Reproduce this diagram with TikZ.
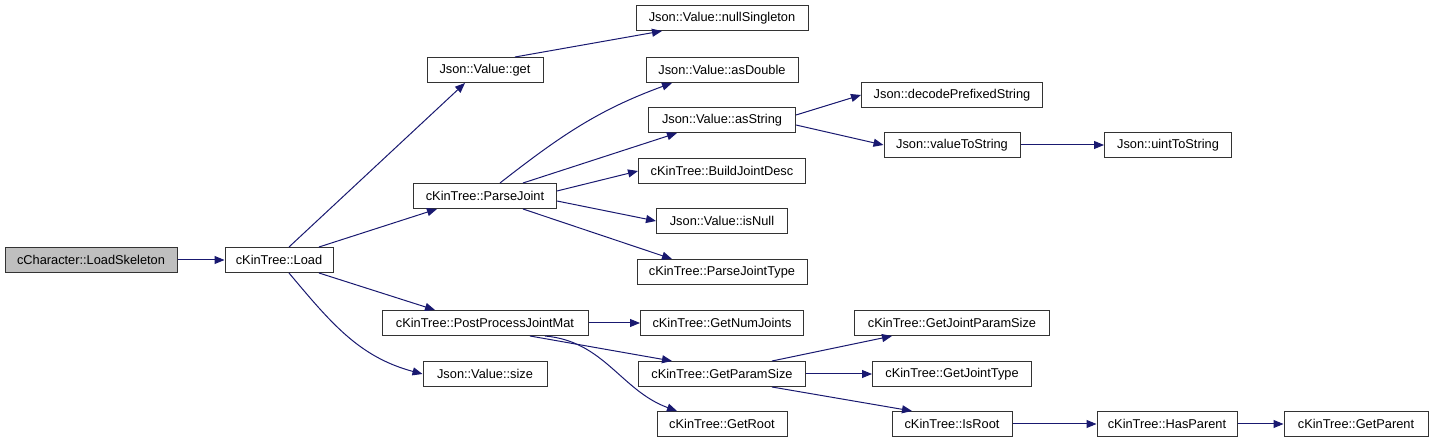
\documentclass[tikz,border=0pt]{standalone}
\usepackage{fontspec}
\setmainfont{Liberation Sans}
\usepackage{xcolor}
\usetikzlibrary{arrows.meta}
\definecolor{edgeblue}{RGB}{25,25,112}
\definecolor{rootgray}{RGB}{191,191,191}

\begin{document}
\begin{tikzpicture}[x=1pt,y=-1pt,
    fn/.style={draw=black!80, line width=1pt, fill=white, minimum height=25pt, inner sep=0pt,
      font=\fontsize{12.8}{15}\selectfont},
    call/.style={draw=edgeblue, line width=1pt, -{Triangle[length=10pt,width=8pt]}}]
                \useasboundingbox (0,0) rectangle (1433,443);
                % Draw the call graph boxes
                \node[fn, fill=rootgray, minimum width=172pt] (skel) at (91,260) {cCharacter::LoadSkeleton};
                \node[fn, minimum width=108pt] (load) at (279,260) {cKinTree::Load};
                \node[fn, minimum width=116pt] (get) at (485,70) {Json::Value::get};
                \node[fn, minimum width=172pt] (nullsing) at (722,18) {Json::Value::nullSingleton};
                \node[fn, minimum width=152pt] (asdouble) at (722,70) {Json::Value::asDouble};
                \node[fn, minimum width=147pt] (asstring) at (722,120) {Json::Value::asString};
                \node[fn, minimum width=181pt] (decode) at (952,95) {Json::decodePrefixedString};
                \node[fn, minimum width=136pt] (valtostr) at (952,145) {Json::valueToString};
                \node[fn, minimum width=127pt] (uinttostr) at (1168,145) {Json::uintToString};
                \node[fn, minimum width=167pt] (builddesc) at (722,171) {cKinTree::BuildJointDesc};
                \node[fn, minimum width=143pt] (parsejoint) at (485,196) {cKinTree::ParseJoint};
                \node[fn, minimum width=131pt] (isnull) at (722,221) {Json::Value::isNull};
                \node[fn, minimum width=170pt] (parsetype) at (722,272) {cKinTree::ParseJointType};
                \node[fn, minimum width=206pt] (postproc) at (485,323) {cKinTree::PostProcessJointMat};
                \node[fn, minimum width=163pt] (numjoints) at (722,323) {cKinTree::GetNumJoints};
                \node[fn, minimum width=195pt] (jparamsize) at (952,323) {cKinTree::GetJointParamSize};
                \node[fn, minimum width=124pt] (size) at (485,374) {Json::Value::size};
                \node[fn, minimum width=167pt] (paramsize) at (722,374) {cKinTree::GetParamSize};
                \node[fn, minimum width=159pt] (jointtype) at (952,374) {cKinTree::GetJointType};
                \node[fn, minimum width=130pt] (getroot) at (722,424) {cKinTree::GetRoot};
                \node[fn, minimum width=120pt] (isroot) at (952,424) {cKinTree::IsRoot};
                \node[fn, minimum width=140pt] (hasparent) at (1167,424) {cKinTree::HasParent};
                \node[fn, minimum width=144pt] (getparent) at (1356,424) {cKinTree::GetParent};

                % Calls
                \draw[call] (skel) -- (load);
                \draw[call] ([xshift=10pt]load.north) -- ([xshift=-20pt]get.south);
                \draw[call] ([xshift=40pt]load.north) -- ([xshift=-48pt]parsejoint.south);
                \draw[call] ([xshift=40pt]load.south) -- ([xshift=-50pt]postproc.north);
                \draw[call] ([xshift=10pt]load.south) to[out=-50,in=165] (size.west);
                \draw[call] ([xshift=30pt]get.north) -- ([xshift=-60pt]nullsing.south);
                \draw[call] ([xshift=15pt]parsejoint.north) to[out=38,in=200] ([xshift=-50pt]asdouble.south);
                \draw[call] ([xshift=38pt]parsejoint.north) -- ([xshift=-45pt]asstring.south);
                \draw[call] ([yshift=5pt]parsejoint.east) -- (builddesc.west);
                \draw[call] ([yshift=-5pt]parsejoint.east) -- (isnull.west);
                \draw[call] ([xshift=38pt]parsejoint.south) -- ([xshift=-50pt]parsetype.north);
                \draw[call] ([yshift=5pt]asstring.east) -- (decode.west);
                \draw[call] ([yshift=-5pt]asstring.east) -- (valtostr.west);
                \draw[call] (valtostr) -- (uinttostr);
                \draw[call] (postproc) -- (numjoints);
                \draw[call] ([xshift=45pt]postproc.south) -- ([xshift=-50pt]paramsize.north);
                \draw[call] ([xshift=60pt]postproc.south) to[out=-5,in=160] ([xshift=-45pt]getroot.north);
                \draw[call] ([xshift=50pt]paramsize.north) -- ([xshift=-60pt]jparamsize.south);
                \draw[call] (paramsize) -- (jointtype);
                \draw[call] ([xshift=50pt]paramsize.south) -- ([xshift=-40pt]isroot.north);
                \draw[call] (isroot) -- (hasparent);
                \draw[call] (hasparent) -- (getparent);
            \end{tikzpicture}
\end{document}
